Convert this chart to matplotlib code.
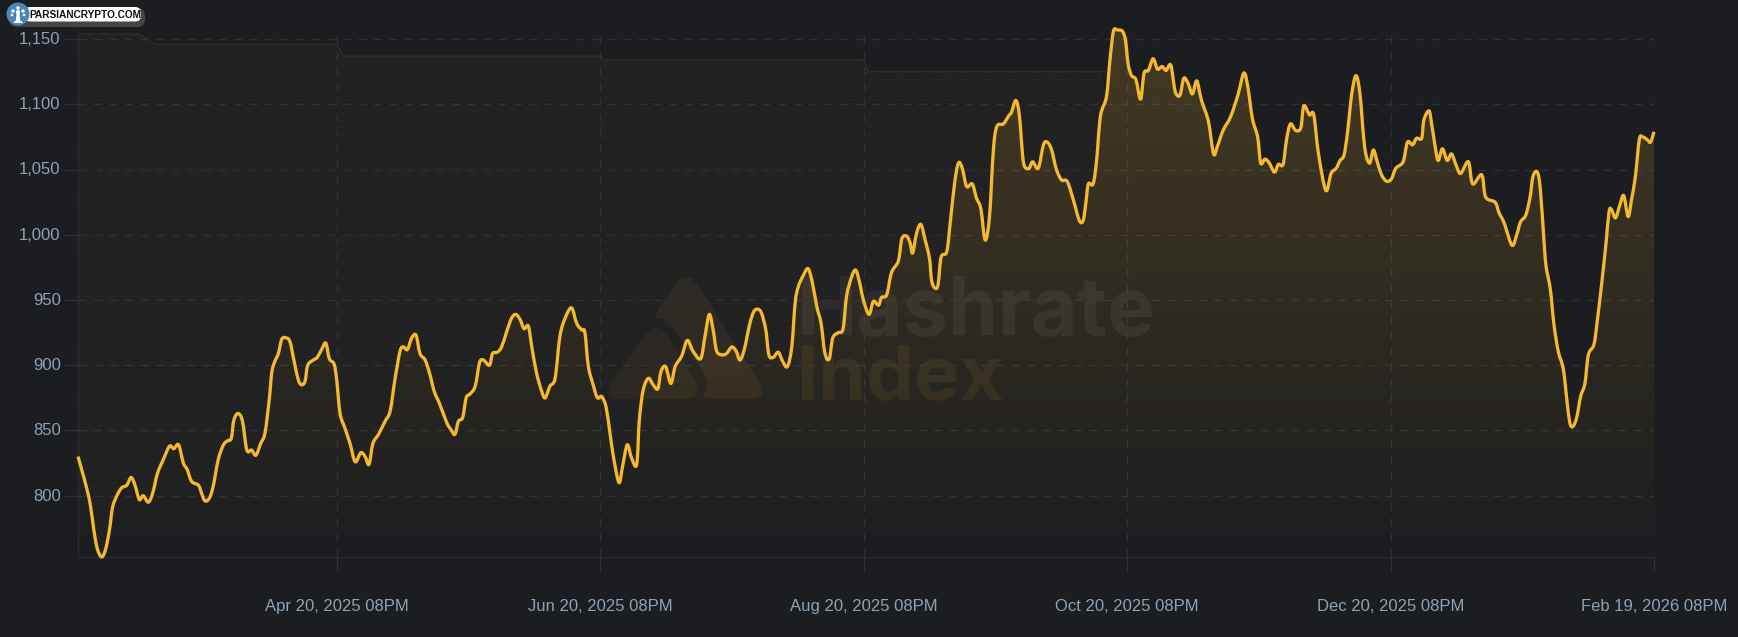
import numpy as np
import matplotlib
matplotlib.use('Agg')
import matplotlib.pyplot as plt
import matplotlib.dates as mdates
from matplotlib.patches import Circle, FancyBboxPatch, PathPatch, Polygon
from matplotlib.path import Path
from matplotlib.transforms import ScaledTranslation

plt.rcParams['font.family'] = ['Liberation Sans', 'DejaVu Sans']
plt.rcParams['hatch.linewidth'] = 0.4

# hashrate, days counted from the first sample
days = [
    0, 1.6, 2.8, 3.7, 4.5, 5.5, 6.4, 7.3, 8, 9, 10.1, 11.3, 12.3, 13.2, 14.2, 15.1, 16.3, 17.3, 18.4, 19.8,
    21.2, 22.2, 23.3, 24.4, 25.3, 26.3, 27.9, 28.6, 29.4, 30.4, 31.3, 32.5, 33.7, 34.6, 35.5, 36.1, 37.1, 38.1, 39.1, 40.2,
    41.2, 42.3, 43.3, 44.3, 44.9, 45.6, 46.4, 47.2, 48.2, 49.1, 50, 51, 51.8, 52.6, 53.2, 54.5, 55.4, 56.4, 57.4, 58.2,
    59.3, 59.9, 60.7, 61.8, 63, 64.2, 65.5, 66.5, 67.4, 68.3, 69.6, 71.1, 72.3, 73.4, 74.6, 75.4, 76.3, 77.3, 78.3, 79.2,
    80.4, 81.5, 82.5, 83.8, 85.4, 86.3, 87.3, 88.1, 89.1, 89.9, 90.8, 92, 93, 93.9, 95.3, 96, 97.1, 98.1, 99.3, 100.4,
    101.4, 102.4, 103.3, 104.3, 105.1, 106.2, 107.4, 108.2, 109.3, 110.5, 111.6, 112.8, 114.3, 115.5, 116.7, 117.4, 118.2, 119.4, 120.3, 121.3,
    122.3, 123.2, 124.1, 125.3, 126.1, 127.2, 128.2, 129.4, 130, 130.9, 132.1, 133.2, 134.3, 135, 136.1, 137.3, 138.3, 139.8, 141.1, 142.4,
    144.2, 145.2, 146.2, 147.1, 147.9, 149.1, 150.2, 151.4, 152.4, 153.3, 154.3, 155.6, 156.5, 157.4, 158.3, 159.3, 160, 161, 162.2, 163.2,
    164.3, 165.3, 166.1, 166.8, 168, 169.1, 170.1, 171.1, 172.1, 173, 174, 174.8, 176.1, 177.2, 178, 179.2, 180.1, 180.9, 181.9, 183.2,
    184.2, 185.4, 186.1, 187.3, 188.4, 190, 190.8, 191.9, 192.7, 193.3, 194.2, 195.2, 196.2, 197.2, 197.7, 198.5, 199.2, 199.9, 201.2, 202,
    203, 203.9, 204.8, 205.8, 207.1, 208.1, 209.1, 210.1, 211.1, 212, 212.8, 214.3, 215.5, 216.2, 217.2, 218, 218.8, 219.3, 220.3, 221.1,
    222.4, 223.6, 224.5, 225.5, 226.6, 227.8, 229.1, 230.5, 231.9, 232.8, 233.4, 234, 235.1, 235.9, 236.8, 238.2, 239, 239.8, 240.7, 241.9,
    242.6, 243.2, 244, 245, 246.1, 246.9, 247.9, 249, 250, 251.1, 252, 253.1, 254.1, 255.2, 256.1, 257.1, 258.1, 259.1, 260.2, 261.8,
    263, 263.9, 265.2, 267, 268.7, 270, 270.9, 272, 273.2, 273.9, 274.9, 275.9, 277.1, 278, 279.1, 279.9, 280.8, 282, 283.2, 283.9,
    285.2, 286.2, 287.3, 289, 290.2, 291.4, 292.3, 293.2, 294, 295, 296, 296.9, 297.8, 298.4, 299.2, 300, 300.9, 301.9, 303.1, 304.2,
    305.2, 306.9, 307.9, 309.1, 310, 311.2, 311.7, 312.9, 313.5, 314.3, 315, 316, 317.1, 318.1, 319.1, 320.2, 322, 323, 325.1, 326,
    328.2, 329.1, 330.3, 332.1, 333.2, 334.1, 335.3, 336.3, 337, 338, 338.7, 339.5, 340, 341, 341.8, 342.8, 344, 344.8, 345.5, 346.2,
    347.1, 348, 349, 349.8, 351.1, 351.9, 352.9, 353.9, 354.6, 355.2, 356.1, 357.1, 358, 359, 359.8, 360.7, 361.6, 362.4, 363.4, 364.2, 365,
]
hashrate = [
    830, 811, 794, 773, 759, 753, 759, 774, 791, 800, 806, 808, 814, 808, 797, 800, 795, 802, 817, 828,
    838, 836, 839, 825, 820, 811, 808, 802, 796, 798, 807, 828, 839, 842, 844, 858, 863, 857, 835, 835,
    831, 840, 848, 874, 895, 903, 909, 920, 921, 918, 904, 889, 885, 888, 900, 904, 906, 912, 917, 905,
    901, 889, 863, 852, 840, 826, 833, 830, 824, 840, 847, 857, 865, 889, 911, 914, 912, 921, 923, 909,
    904, 893, 880, 870, 856, 851, 847, 857, 860, 875, 878, 884, 902, 904, 900, 909, 910, 914, 926, 936,
    939, 935, 928, 930, 914, 894, 880, 875, 884, 890, 922, 936, 944, 932, 927, 925, 899, 884, 875, 876,
    868, 848, 828, 810, 822, 839, 829, 824, 858, 881, 890, 885, 882, 895, 899, 886, 899, 907, 919, 911,
    905, 922, 939, 927, 911, 908, 909, 914, 911, 904, 912, 932, 941, 943, 940, 927, 908, 906, 910, 903,
    899, 914, 948, 960, 969, 974, 963, 945, 932, 909, 905, 921, 925, 928, 953, 968, 973, 965, 950, 939,
    949, 946, 952, 954, 971, 980, 997, 999, 994, 986, 1001, 1008, 996, 982, 965, 959, 962, 983, 987, 1009,
    1039, 1055, 1051, 1037, 1039, 1028, 1020, 996, 1014, 1065, 1083, 1085, 1091, 1094, 1103, 1092, 1060, 1052, 1051, 1056,
    1051, 1069, 1071, 1065, 1050, 1042, 1041, 1027, 1011, 1011, 1024, 1039, 1039, 1057, 1091, 1106, 1134, 1156, 1157, 1156,
    1149, 1131, 1122, 1119, 1104, 1124, 1126, 1135, 1127, 1129, 1126, 1130, 1110, 1107, 1120, 1116, 1108, 1118, 1103, 1087,
    1062, 1068, 1080, 1091, 1108, 1124, 1114, 1089, 1075, 1055, 1058, 1055, 1048, 1054, 1054, 1073, 1085, 1080, 1082, 1099,
    1092, 1092, 1062, 1034, 1047, 1051, 1057, 1061, 1078, 1108, 1122, 1108, 1073, 1060, 1055, 1065, 1056, 1046, 1041, 1043,
    1051, 1056, 1071, 1069, 1074, 1074, 1088, 1095, 1085, 1068, 1057, 1066, 1057, 1062, 1054, 1047, 1056, 1039, 1046, 1029,
    1025, 1017, 1009, 992, 1000, 1010, 1015, 1029, 1045, 1048, 1034, 996, 976, 958, 932, 911, 897, 874, 856, 853,
    860, 876, 886, 908, 916, 935, 963, 994, 1018, 1019, 1013, 1023, 1030, 1014, 1027, 1045, 1073, 1075, 1073, 1071, 1079,
]

# stepped upper band, it ends where the series climbs past it
band_days = [0, 14, 18, 60, 61.5, 121, 122, 182, 183, 238]
band_values = [1154, 1154, 1146, 1146, 1137, 1137, 1134, 1134, 1125, 1125]

y_ticks = [800, 850, 900, 950, 1000, 1050, 1100, 1150]
y_tick_labels = ['800', '850', '900', '950', '1,000', '1,050', '1,100', '1,150']
x_ticks = ['2025-04-20 20:00', '2025-06-20 20:00', '2025-08-20 20:00',
           '2025-10-20 20:00', '2025-12-20 20:00', '2026-02-19 20:00']
x_tick_labels = ['Apr 20, 2025 08PM', 'Jun 20, 2025 08PM', 'Aug 20, 2025 08PM',
                 'Oct 20, 2025 08PM', 'Dec 20, 2025 08PM', 'Feb 19, 2026 08PM']

W, H = 1738, 637
BG = '#1c1d20'
GOLD = '#f5b92f'
GRID = '#303135'
LABEL = '#8ba3b8'


def smooth_path(xs, ys):
    # catmull-rom through the samples, written out as bezier segments
    p = np.column_stack([xs, ys])
    q = np.vstack([p[0], p, p[-1]])
    verts = [p[0]]
    codes = [Path.MOVETO]
    for i in range(1, len(q) - 2):
        verts += [q[i] + (q[i + 1] - q[i - 1]) / 6, q[i + 1] - (q[i + 2] - q[i]) / 6, q[i + 1]]
        codes += [Path.CURVE4] * 3
    return Path(np.array(verts), codes)


def rounded_shape(pts, r):
    # polygon with its corners cut by quadratic curves
    pts = np.array(pts, dtype=float)
    n = len(pts)
    verts, codes = [], []
    for i in range(n):
        a, b, c = pts[i - 1], pts[i], pts[(i + 1) % n]
        s = b + (a - b) * min(r / np.linalg.norm(a - b), 0.5)
        e = b + (c - b) * min(r / np.linalg.norm(c - b), 0.5)
        verts += [s, b, e]
        codes += [Path.MOVETO if i == 0 else Path.LINETO, Path.CURVE3, Path.CURVE3]
    verts.append(verts[0])
    codes.append(Path.CLOSEPOLY)
    return Path(np.array(verts), codes)


fig = plt.figure(figsize=(W / 100, H / 100), dpi=100, facecolor=BG)

# watermark goes behind the chart, pixel coordinates
under = fig.add_axes([0, 0, 1, 1], zorder=0)
under.set_xlim(0, W)
under.set_ylim(H, 0)
under.axis('off')

back_mound = [(687, 268), (770, 399), (698, 399), (712, 385), (666, 317), (650, 320)]
left_mound = [(657, 318), (600, 399), (706, 399)]
under.add_patch(PathPatch(rounded_shape(back_mound, 22), fc='#ffc53d', ec='none', alpha=0.07))
under.add_patch(PathPatch(rounded_shape(left_mound, 24), fc='#ffc53d', ec='none', alpha=0.06))
under.text(797, 335, 'Hashrate', fontsize=58, family='Inter', fontweight='bold', color='#ffffff',
           alpha=0.06, va='baseline')
under.text(797, 399, 'Index', fontsize=55, family='Inter', fontweight='bold', color='#ffc53d',
           alpha=0.075, va='baseline')

ax = fig.add_axes([78 / W, 1 - 557 / H, (1654 - 78) / W, (557 - 30) / H], zorder=1)
ax.patch.set_alpha(0)

start = mdates.date2num(np.datetime64('2025-02-19T20:00'))
x = start + np.array(days)
y = np.array(hashrate)
band = np.interp(days, band_days, band_values)
in_band = (band > y) & (np.array(days) <= band_days[-1])

# gold gradient under the line
y0, y1 = 753, 1157
grad = np.zeros((256, 2, 4))
grad[..., :3] = matplotlib.colors.to_rgb(GOLD)
grad[..., 3] = np.linspace(0.19, 0.0, 256)[:, None]
img = ax.imshow(grad, extent=[x[0], x[-1], y0, y1], aspect='auto', origin='upper', zorder=2,
                interpolation='bilinear')
area = ax.fill_between(x, y0, y, facecolor='none', edgecolor='none')
img.set_clip_path(area.get_paths()[0], transform=ax.transData)

# dotted band above the line
ax.fill_between(x, y, band, where=in_band, interpolate=True, facecolor='none',
                edgecolor='#37342b', hatch='.........', linewidth=0, zorder=2)
ax.plot(start + np.array(band_days), band_values, color='#39342a', lw=0.7, zorder=2)

ax.add_patch(PathPatch(smooth_path(x, y), fc='none', ec=GOLD, lw=2.35, joinstyle='round', capstyle='butt',
                       zorder=4, clip_on=False))

ax.set_xlim(start, start + 365)
ax.set_ylim(y0, y1)
ax.set_yticks(y_ticks, y_tick_labels)
ax.set_xticks(mdates.date2num(np.array(x_ticks, dtype='datetime64[m]')), x_tick_labels)
ax.grid(True, color=GRID, lw=1.0, linestyle=(0, (5.8, 5.4)))
ax.set_axisbelow(True)
for side in ('top', 'right'):
    ax.spines[side].set_visible(False)
for side in ('left', 'bottom'):
    ax.spines[side].set_color('#2b2c30')
    ax.spines[side].set_linewidth(1.0)
ax.tick_params(axis='y', length=10, width=0.9, color=GRID, labelcolor=LABEL, labelsize=12, pad=2.5)
ax.tick_params(axis='x', length=10, width=0.9, color=GRID, labelcolor=LABEL, labelsize=12, pad=20.5)
for label in ax.get_yticklabels():
    label.set_transform(label.get_transform() + ScaledTranslation(0, 0.8 / 72, fig.dpi_scale_trans))

# site badge in the corner
over = fig.add_axes([0, 0, 1, 1], zorder=2)
over.patch.set_alpha(0)
over.set_xlim(0, W)
over.set_ylim(H, 0)
over.axis('off')
over.add_patch(FancyBboxPatch((9, 8), 136, 19, boxstyle='round,pad=0,rounding_size=8', fc='#454545', ec='none'))
over.add_patch(FancyBboxPatch((24, 7), 117, 14.5, boxstyle='round,pad=0,rounding_size=6', fc='white', ec='none'))
over.add_patch(Circle((18, 14), 11.5, fc='#4a87b5', ec='none'))
for cx, cy, r in [(13, 11, 1.7), (18, 8, 1.8), (23, 11, 1.7), (12, 15, 1.3), (24, 15, 1.3), (18, 12, 2.0)]:
    over.add_patch(Circle((cx, cy), r, fc='white', ec='none'))
over.add_patch(Polygon([(16.5, 12), (19.5, 12), (20, 20), (23, 23), (13, 23), (16, 20)], fc='white', ec='none'))
over.text(29.5, 14.6, 'PARSIANCRYPTO.COM', fontsize=7.25, fontweight='bold', color='#101010', va='center', ha='left')

fig.savefig('out.png', dpi=100, facecolor=BG)
